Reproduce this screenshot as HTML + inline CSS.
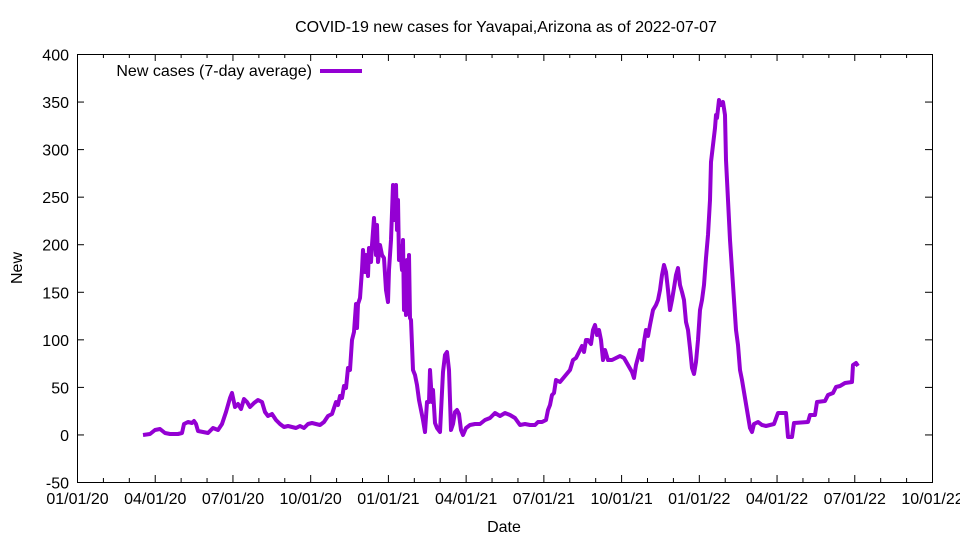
<!DOCTYPE html>
<html><head><meta charset="utf-8"><style>
body{margin:0;background:#fff}
svg{display:block;font-family:"Liberation Sans",sans-serif}
</style></head><body>
<svg id="s" width="960" height="540" viewBox="0 0 960 540">
<rect x="0" y="0" width="960" height="540" fill="#fff"/>
<text x="506" y="32" font-size="16" text-anchor="middle">COVID-19 new cases for Yavapai,Arizona as of 2022-07-07</text>
<g id="ax" stroke="#000" stroke-width="1" fill="none"></g>
<g id="lb" font-size="16" fill="#000"></g>
<text x="504" y="532" font-size="16" text-anchor="middle">Date</text>
<text transform="translate(22,268) rotate(-90)" font-size="16" text-anchor="middle">New</text>
<text x="312" y="76" font-size="16" text-anchor="end">New cases (7-day average)</text>
<line x1="320" y1="71" x2="362" y2="71" stroke="#9400d3" stroke-width="4"/>
<polyline fill="none" stroke="#9400d3" stroke-width="4" stroke-linejoin="round" points="143,435 150,434 155,430 160,429 165,433 170,434 178,434 182,433 184,424 188,422 192,423 194,421 196,424 198,431 203,432 208,433 213,428 218,430 222,424 226,412 230,398 232,393 235,407 238,404 241,409 244,399 247,402 250,407 254,403 258,400 262,402 265,412 268,416 272,414 276,420 280,424 284,427 288,426 292,427 296,428 300,426 304,428 308,424 312,423 316,424 320,425 324,422 328,416 332,414 334,408 336,402 338,405 340,396 342,398 344,386 346,388 348,368 350,370 352,340 354,332 356,304 357,328 358,304 360,298 362,270 363,250 365,272 366,255 368,276 369,248 371,262 372,245 374,218 376,255 377,225 378,262 380,245 382,255 384,258 386,290 388,302 389,270 391,240 393,185 394,220 396,185 397,230 398,200 399,260 400,246 402,270 403,240 404,310 405,290 406,315 407,260 408,312 409,255 410,318 411,320 413,370 415,375 417,385 419,400 421,410 423,420 425,432 427,402 429,402 430,370 432,402 433,390 435,423 437,428 440,432 443,372 445,355 447,352 449,370 451,430 453,424 455,412 457,410 459,414 461,430 463,435 466,428 470,425 475,424 480,424 485,420 490,418 495,413 500,416 505,413 510,415 515,418 520,425 525,424 530,425 535,425 538,422 542,422 546,420 548,410 550,405 552,395 554,393 556,380 560,382 565,376 570,370 573,360 576,358 580,350 582,346 584,352 586,340 588,340 591,344 593,330 595,325 597,335 599,330 601,340 603,360 605,350 608,360 612,360 616,358 620,356 624,358 628,365 632,372 634,378 636,365 640,350 642,360 644,342 646,330 648,336 650,325 653,310 656,305 658,300 660,290 662,275 664,265 666,272 668,290 670,310 672,300 674,288 676,275 678,268 680,285 682,292 684,300 686,322 688,330 690,348 692,368 694,374 696,362 698,340 700,310 702,300 704,285 706,258 708,235 710,200 711,162 713,145 715,128 716,115 717,118 719,100 721,105 723,102 725,115 726,160 728,200 730,240 732,270 734,300 736,330 738,345 740,370 742,380 744,392 746,404 748,416 750,428 752,432 754,424 758,422 762,425 766,426 770,425 774,424 778,413 782,413 786,413 788,437 792,437 794,423 808,422 810,415 815,415 817,402 825,401 828,395 833,393 836,387 840,386 845,383 852,382 853,365 856,363 858,366"/>
</svg>
<script>
var ax=document.getElementById('ax'),lb=document.getElementById('lb'),ns='http://www.w3.org/2000/svg';
function el(p,t,a,txt){var e=document.createElementNS(ns,t);for(var k in a)e.setAttribute(k,a[k]);if(txt!=null)e.textContent=txt;p.appendChild(e);}
el(ax,'rect',{x:77.5,y:54.5,width:855,height:428});
for(var i=0;i<=9;i++){var v=400-50*i,y=54.5+i*47.556;
el(ax,'line',{x1:77,y1:y,x2:84,y2:y});el(ax,'line',{x1:932,y1:y,x2:925,y2:y});
el(lb,'text',{x:69,y:y+6,'text-anchor':'end'},String(v));}
var labs=['01/01/20','04/01/20','07/01/20','10/01/20','01/01/21','04/01/21','07/01/21','10/01/21','01/01/22','04/01/22','07/01/22','10/01/22'];
for(var m=0;m<=33;m++){var x=77.5+m*855/33,maj=m%3==0,h=maj?7:4;
el(ax,'line',{x1:x,y1:482,x2:x,y2:482-h});el(ax,'line',{x1:x,y1:54,x2:x,y2:54+h});
if(maj)el(lb,'text',{x:x,y:504,'text-anchor':'middle'},labs[m/3]);}
</script>
</body></html>
